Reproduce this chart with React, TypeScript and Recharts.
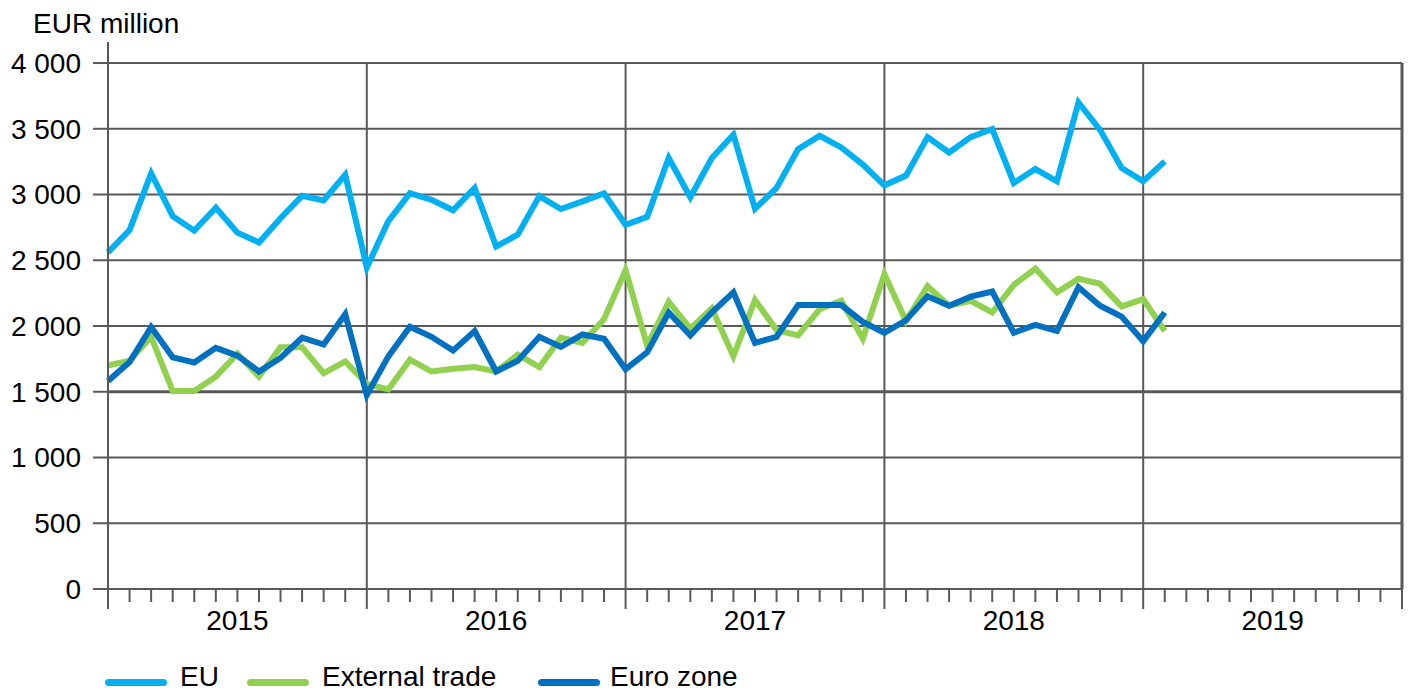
import React from 'react';
import { LineChart, Line, XAxis, YAxis, ReferenceLine, Legend } from 'recharts';

const years = ['2015', '2016', '2017', '2018', '2019'];
const yTicks = [0, 500, 1000, 1500, 2000, 2500, 3000, 3500, 4000];
const yTickLabels = ['0', '500', '1 000', '1 500', '2 000', '2 500', '3 000', '3 500', '4 000'];

const eu = [
  2560, 2730, 3160, 2835, 2725, 2900, 2710, 2635, 2820, 2990, 2955, 3150,
  2445, 2798, 3010, 2960, 2880, 3050, 2605, 2695, 2988, 2890, 2948, 3008,
  2770, 2830, 3278, 2980, 3278, 3455, 2892, 3050, 3345, 3447, 3358, 3228,
  3070, 3144, 3437, 3320, 3437, 3498, 3088, 3194, 3101, 3700, 3492, 3202,
  3101, 3252,
];
const externalTrade = [
  1700, 1736, 1918, 1505, 1505, 1615, 1790, 1615, 1838, 1838, 1641, 1731,
  1560, 1518, 1744, 1654, 1675, 1688, 1654, 1782, 1688, 1911, 1872, 2052,
  2425, 1851, 2185, 1980, 2134, 1770, 2198, 1969, 1928, 2128, 2192, 1903,
  2395, 2038, 2303, 2154, 2192, 2103, 2313, 2437, 2256, 2359, 2321, 2149,
  2205, 1962,
];
const euroZone = [
  1582, 1726, 1992, 1762, 1723, 1834, 1775, 1654, 1757, 1911, 1859, 2090,
  1475, 1769, 1995, 1918, 1813, 1962, 1654, 1736, 1918, 1841, 1936, 1903,
  1672, 1800, 2103, 1928, 2103, 2256, 1872, 1918, 2159, 2159, 2159, 2031,
  1949, 2044, 2226, 2154, 2223, 2262, 1949, 2008, 1962, 2295, 2154, 2072,
  1885, 2103,
];

const seriesNames = ['EU', 'External trade', 'Euro zone'];
const seriesColors = ['#00B0F0', '#92D050', '#0070C0'];

const data = eu.map((v, i) => ({ m: i, eu: v, ext: externalTrade[i], ez: euroZone[i] }));
const xTicks = Array.from({ length: years.length * 12 + 1 }, (_, i) => i);
const yearLines = years.map((_, i) => (i + 1) * 12);

const FONT = 'Arial, "Liberation Sans", Helvetica, sans-serif';
const GRID = '#595959';

const XTick = (props: any) => {
  const { x, y, payload } = props;
  const v = payload.value as number;
  const major = v % 12 === 0;
  return (
    <g>
      <line x1={x} x2={x} y1={y} y2={y + (major ? 20 : 13)} stroke={GRID} strokeWidth={2} />
      {v % 12 === 6 && (
        <text x={x} y={y + 41} textAnchor="middle" fontSize={28} fill="#000" fontFamily={FONT}>
          {years[(v - 6) / 12]}
        </text>
      )}
    </g>
  );
};

const legendPos = [
  { swatch: 97, text: 172 },
  { swatch: 239, text: 314 },
  { swatch: 530, text: 602 },
];

const LegendContent = () => (
  <div style={{ position: 'relative', width: 1400, height: 32, fontFamily: FONT }}>
    {seriesNames.map((name, i) => (
      <React.Fragment key={name}>
        <div
          style={{
            position: 'absolute',
            left: legendPos[i].swatch,
            top: 18,
            width: 62,
            height: 7,
            borderRadius: 4,
            background: seriesColors[i],
          }}
        />
        <div
          style={{
            position: 'absolute',
            left: legendPos[i].text,
            top: 0,
            lineHeight: '32px',
            fontSize: 28,
            color: '#000',
            whiteSpace: 'nowrap',
          }}
        >
          {name}
        </div>
      </React.Fragment>
    ))}
  </div>
);

export default function App() {
  return (
    <div style={{ position: 'relative', width: 1400, height: 685, fontFamily: FONT }}>
      <div
        style={{
          position: 'absolute',
          left: 25,
          top: 0,
          fontSize: 28,
          lineHeight: '32px',
          color: '#000',
          whiteSpace: 'nowrap',
        }}
      >
        EUR million
      </div>
      <LineChart
        width={1400}
        height={685}
        data={data}
        margin={{ top: 34, right: 6, bottom: 44, left: 0 }}
      >
        <XAxis
          type="number"
          dataKey="m"
          domain={[0, 60]}
          ticks={xTicks}
          interval={0}
          tickLine={false}
          tickSize={0}
          tickMargin={0}
          height={60}
          axisLine={{ stroke: GRID, strokeWidth: 2 }}
          tick={<XTick />}
        />
        <YAxis
          type="number"
          domain={[0, 4160]}
          ticks={yTicks}
          interval={0}
          width={100}
          tickSize={15}
          tickMargin={12}
          tickFormatter={(v: number) => yTickLabels[yTicks.indexOf(v)]}
          tick={{ fontSize: 28, fill: '#000', fontFamily: FONT }}
          tickLine={{ stroke: GRID, strokeWidth: 2 }}
          axisLine={{ stroke: GRID, strokeWidth: 2 }}
          allowDataOverflow
        />
        {yTicks.filter((v) => v > 0).map((v) => (
          <ReferenceLine key={'h' + v} y={v} stroke={GRID} strokeWidth={v === 1500 ? 3 : 2} />
        ))}
        {yearLines.map((x) => (
          <ReferenceLine
            key={'v' + x}
            segment={[{ x, y: 0 }, { x, y: 4000 }]}
            stroke={GRID}
            strokeWidth={x === 60 ? 3 : 2}
          />
        ))}
        <Legend
          layout="horizontal"
          verticalAlign="middle"
          align="center"
          wrapperStyle={{ top: 653, left: 0, width: 1400, height: 32 }}
          content={<LegendContent />}
        />
        <Line type="linear" dataKey="eu" name={seriesNames[0]} stroke={seriesColors[0]} strokeWidth={6} dot={false} isAnimationActive={false} />
        <Line type="linear" dataKey="ext" name={seriesNames[1]} stroke={seriesColors[1]} strokeWidth={6} dot={false} isAnimationActive={false} />
        <Line type="linear" dataKey="ez" name={seriesNames[2]} stroke={seriesColors[2]} strokeWidth={6} dot={false} isAnimationActive={false} />
      </LineChart>
    </div>
  );
}
